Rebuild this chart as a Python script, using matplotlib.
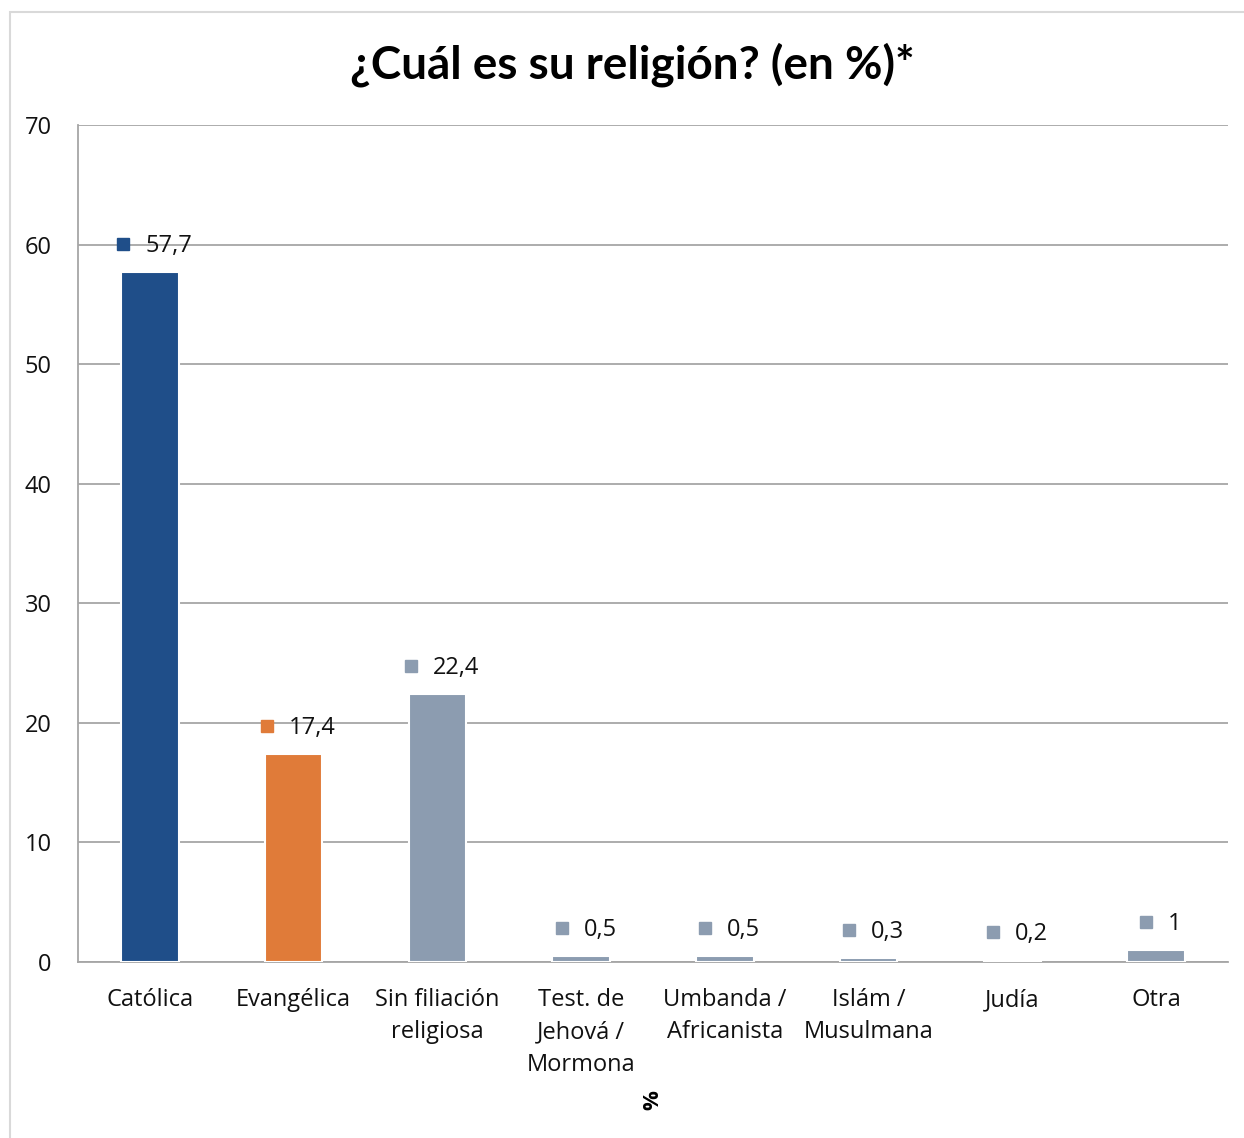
import numpy as np
import matplotlib.pyplot as plt
from matplotlib.patches import Rectangle
from matplotlib.transforms import offset_copy

plt.rcParams["font.family"] = ["Open Sans", "DejaVu Sans"]

categorias = ["Católica", "Evangélica", "Sin filiación\nreligiosa", "Test. de\nJehová /\nMormona",
              "Umbanda /\nAfricanista", "Islám /\nMusulmana", "Judía", "Otra"]
valores = [57.7, 17.4, 22.4, 0.5, 0.5, 0.3, 0.2, 1]
etiquetas = ["57,7", "17,4", "22,4", "0,5", "0,5", "0,3", "0,2", "1"]
colores = ["#1F4E89", "#E07B39", "#8C9CB0", "#8C9CB0", "#8C9CB0", "#8C9CB0", "#8C9CB0", "#8C9CB0"]

fig = plt.figure(figsize=(12.44, 11.38), dpi=100)
ax = fig.add_axes([78 / 1244, 1 - 962 / 1138, 1150 / 1244, 837 / 1138])

# borde gris del recuadro
fig.patches.append(Rectangle((10 / 1244, -0.01), 1.0, 1 - 12 / 1138 + 0.01, transform=fig.transFigure,
                             fill=False, edgecolor="#D9D9D9", linewidth=1.5))

x = np.arange(len(categorias))
ax.bar(x, valores, width=0.4, color=colores, edgecolor="white", linewidth=1.5, zorder=3)

ax.set_xlim(-0.5, len(x) - 0.5)
ax.set_ylim(0, 70)

# etiquetas de datos con el cuadradito, centradas sobre la barra
renderer = fig.canvas.get_renderer()
for i in range(len(x)):
    t = ax.text(x[i], valores[i], etiquetas[i], ha="left", va="center",
                fontsize=17, color="#111111", zorder=4)
    w = t.get_window_extent(renderer).width
    total = 12 + 16 + w
    izq = 5 - total / 2
    t.set_transform(offset_copy(ax.transData, fig=fig, x=izq + 28, y=26, units="dots"))
    tr_sq = offset_copy(ax.transData, fig=fig, x=izq + 6, y=28, units="dots")
    ax.plot([x[i]], [valores[i]], marker="s", markersize=9, color=colores[i], transform=tr_sq,
            clip_on=False, zorder=4)

ax.set_yticks(range(0, 71, 10))
ax.set_xticks(x, labels=categorias)
ax.tick_params(axis="both", length=0, labelsize=17, colors="#111111")
ax.tick_params(axis="y", pad=19)
ax.tick_params(axis="x", pad=19)
for lab in ax.get_xticklabels():
    lab.set_linespacing(1.45)
ax.yaxis.grid(True, color="#A6A6A6", linewidth=1.3, zorder=0)
for s in ["top", "right"]:
    ax.spines[s].set_visible(False)
ax.spines["left"].set_color("#A6A6A6")
ax.spines["bottom"].set_color("#A6A6A6")
ax.spines["left"].set_linewidth(1.3)
ax.spines["bottom"].set_linewidth(1.3)

fig.text(632 / 1244, 1 - 65 / 1138, "¿Cuál es su religión? (en %)*", ha="center", va="center",
         fontsize=33, fontweight="bold", family=["Lato", "DejaVu Sans"])
fig.text(653 / 1244, 1 - 1100 / 1138, "%", ha="center", va="center", rotation=90,
         fontsize=16, fontweight="bold")

fig.savefig("out.png", dpi=100)
